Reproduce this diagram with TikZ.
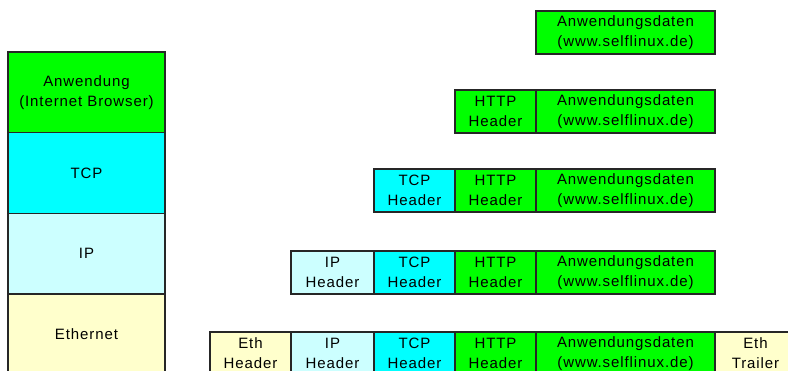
\documentclass[tikz,border=0pt]{standalone}
\usepackage{fontspec}
\setmainfont{Liberation Sans}
\newfontfamily\schriftfam[LetterSpace=6]{Liberation Sans}
\usetikzlibrary{positioning}
\definecolor{gruen}{HTML}{00FF00}
\definecolor{tuerkis}{HTML}{00FFFF}
\definecolor{hellblau}{HTML}{CCFFFF}
\definecolor{hellgelb}{HTML}{FFFFCC}
\definecolor{rahmen}{HTML}{262626}
\tikzset{
  feld/.style={draw=rahmen,line width=1.2pt,minimum height=43pt,inner sep=0pt,
    outer sep=0pt,align=center,text=black,
    font=\schriftfam\fontsize{15}{20}\selectfont},
  kopf/.style={feld,minimum width=81pt},
  daten/.style={feld,fill=gruen,minimum width=179pt},
  schicht/.style={feld,line width=1.5pt,minimum width=157pt,minimum height=80.7pt}
}

\begin{document}
\begin{tikzpicture}[x=1pt,y=-1pt]
  % Bildrahmen.
  \useasboundingbox (0,0) rectangle (788,371);
  \clip (0,0) rectangle (788,371);

  % Schichtenmodell links.
  \node[schicht,fill=gruen,anchor=north west] (anw) at (8,52)
    {Anwendung\\(Internet Browser)};
  \node[schicht,fill=tuerkis,below=0pt of anw] (tcp) {TCP};
  \node[schicht,fill=hellblau,below=0pt of tcp] (ip) {IP};
  \node[schicht,fill=hellgelb,below=0pt of ip] (eth) {Ethernet};

  % Anwendungsdaten.
  \node[daten,anchor=north west] (daten1) at (536,11)
    {Anwendungsdaten\\(www.selflinux.de)};

  % HTTP.
  \node[daten,anchor=north west] (daten2) at (536,90)
    {Anwendungsdaten\\(www.selflinux.de)};
  \node[kopf,fill=gruen,left=0pt of daten2] (http2) {HTTP\\Header};

  % TCP.
  \node[daten,anchor=north west] (daten3) at (536,169)
    {Anwendungsdaten\\(www.selflinux.de)};
  \node[kopf,fill=gruen,left=0pt of daten3] (http3) {HTTP\\Header};
  \node[kopf,fill=tuerkis,left=0pt of http3] (tcp3) {TCP\\Header};

  % IP.
  \node[daten,anchor=north west] (daten4) at (536,251)
    {Anwendungsdaten\\(www.selflinux.de)};
  \node[kopf,fill=gruen,left=0pt of daten4] (http4) {HTTP\\Header};
  \node[kopf,fill=tuerkis,left=0pt of http4] (tcp4) {TCP\\Header};
  \node[kopf,fill=hellblau,minimum width=83pt,left=0pt of tcp4] (ip4) {IP\\Header};

  % Ethernet.
  \node[daten,anchor=north west] (daten5) at (536,332)
    {Anwendungsdaten\\(www.selflinux.de)};
  \node[kopf,fill=gruen,left=0pt of daten5] (http5) {HTTP\\Header};
  \node[kopf,fill=tuerkis,left=0pt of http5] (tcp5) {TCP\\Header};
  \node[kopf,fill=hellblau,minimum width=83pt,left=0pt of tcp5] (ip5) {IP\\Header};
  \node[kopf,fill=hellgelb,left=0pt of ip5] (eth5) {Eth\\Header};
  \node[kopf,fill=hellgelb,right=0pt of daten5] (trailer5) {Eth\\Trailer};
\end{tikzpicture}
\end{document}
